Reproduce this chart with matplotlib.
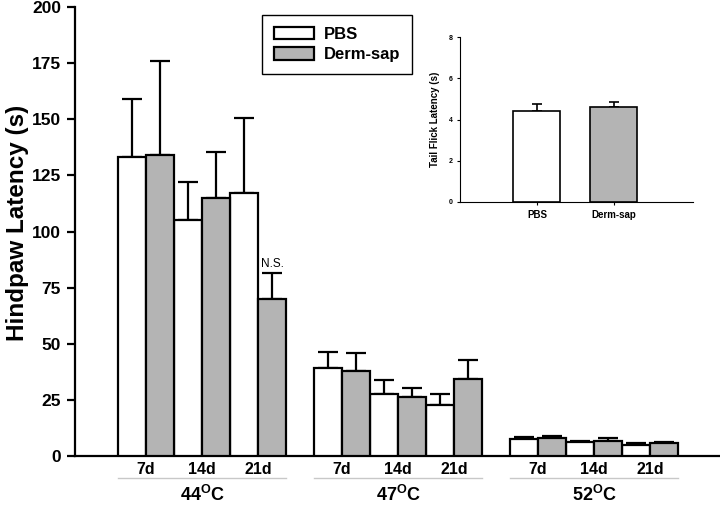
import numpy as np
import matplotlib.pyplot as plt

plt.rcParams['font.family'] = ['Liberation Sans', 'DejaVu Sans']
plt.rcParams['mathtext.fontset'] = 'custom'
plt.rcParams['mathtext.bf'] = 'Liberation Sans:bold'
plt.rcParams['mathtext.rm'] = 'Liberation Sans'

# data
temps = ['44', '47', '52']
days = ['7d', '14d', '21d']
pbs_mean = [133, 105, 117, 39, 27.5, 22.6, 7.4, 6.2, 5.0]
pbs_err = [26, 17, 33.5, 7.4, 6.3, 4.9, 0.9, 0.6, 0.6]
derm_mean = [134, 115, 70, 37.8, 26.3, 34.2, 7.9, 6.8, 5.9]
derm_err = [42, 20.5, 11.6, 8.2, 4.1, 8.4, 0.9, 1.1, 0.5]

tail_groups = ['PBS', 'Derm-sap']
tail_mean = [4.41, 4.62]
tail_err = [0.33, 0.25]

WHITE = 'white'
GREY = '#b4b4b4'

fig = plt.figure(figsize=(7.2, 5.05), dpi=100)
ax = fig.add_axes([75 / 720, 1 - 456 / 505, 645 / 720, 449 / 505])

off = 1.54
pbs_x = []
derm_x = []
for g in range(3):
    for d in range(3):
        left = off + 7 * g + 2 * d
        pbs_x.append(left + 0.5)
        derm_x.append(left + 1.5)
pbs_x = np.array(pbs_x)
derm_x = np.array(derm_x)

ax.bar(pbs_x, pbs_mean, width=1, color=WHITE, edgecolor='black', linewidth=1.6, label='PBS', zorder=3)
ax.bar(derm_x, derm_mean, width=1, color=GREY, edgecolor='black', linewidth=1.6, label='Derm-sap', zorder=3)
ax.errorbar(pbs_x, pbs_mean, yerr=[np.zeros(9), pbs_err], fmt='none', ecolor='black',
            elinewidth=1.6, capsize=7, capthick=1.6, zorder=2)
ax.errorbar(derm_x, derm_mean, yerr=[np.zeros(9), derm_err], fmt='none', ecolor='black',
            elinewidth=1.6, capsize=7, capthick=1.6, zorder=2)

ax.text(derm_x[2], derm_mean[2] + derm_err[2] + 1.2, 'N.S.', ha='center', va='bottom', fontsize=8.5)

ax.set_xlim(0, 23.04)
ax.set_ylim(0, 200)
ax.set_yticks(np.arange(0, 201, 25))
ax.tick_params(axis='y', direction='out', length=6, width=1.6, labelsize=12.5, pad=4)
for t in ax.get_yticklabels():
    t.set_fontweight('bold')
ax.set_xticks([])
for s in ['top', 'right']:
    ax.spines[s].set_visible(False)
for s in ['left', 'bottom']:
    ax.spines[s].set_linewidth(1.6)
ax.set_ylabel('Hindpaw Latency (s)', fontsize=17.5, fontweight='bold')
ax.yaxis.set_label_coords(-0.072, 0.52)

trans = ax.get_xaxis_transform()
for g in range(3):
    for d in range(3):
        i = 3 * g + d
        xc = (pbs_x[i] + derm_x[i]) / 2
        ax.text(xc, -0.014, days[d], transform=trans, ha='center', va='top',
                fontsize=11.5, fontweight='bold')
    x0 = off + 7 * g
    ax.plot([x0, x0 + 6], [-0.049, -0.049], transform=trans, color='#c8c8c8',
            linewidth=1, clip_on=False)
    ax.text(x0 + 3, -0.064, temps[g] + r'$^{\mathbf{O}}$C', transform=trans, ha='center',
            va='top', fontsize=13, fontweight='bold')

ax.legend(loc='upper left', bbox_to_anchor=(262 / 720, 1 - 15 / 505),
          bbox_transform=fig.transFigure, borderaxespad=0, fancybox=False,
          edgecolor='black', framealpha=1, prop={'weight': 'bold', 'size': 12},
          handlelength=2.4, handleheight=0.8, handletextpad=0.6, labelspacing=0.32,
          borderpad=0.7)
ax.get_legend().get_frame().set_linewidth(1)

# inset: tail flick
ins = fig.add_axes([460 / 720, 1 - 202 / 505, 233 / 720, 165 / 505])
tx = np.arange(1, len(tail_groups) + 1)
ins.bar(tx, tail_mean, width=0.61, color=[WHITE, GREY], edgecolor='black', linewidth=1.2, zorder=3)
ins.errorbar(tx, tail_mean, yerr=[np.zeros(2), tail_err], fmt='none', ecolor='black',
             elinewidth=1.2, capsize=3.5, capthick=1.2, zorder=2)
ins.set_xlim(0, 3.03)
ins.set_ylim(0, 8)
ins.set_yticks([0, 2, 4, 6, 8])
ins.set_xticks(tx)
ins.set_xticklabels(tail_groups, fontsize=7, fontweight='bold')
ins.tick_params(axis='y', direction='out', length=2.5, width=0.8, labelsize=5, pad=3)
ins.tick_params(axis='x', direction='out', length=2.5, width=0.8, pad=3)
for t in ins.get_yticklabels():
    t.set_fontweight('bold')
for s in ['top', 'right']:
    ins.spines[s].set_visible(False)
for s in ['left', 'bottom']:
    ins.spines[s].set_linewidth(0.8)
ins.set_ylabel('Tail Flick Latency (s)', fontsize=7, fontweight='bold', labelpad=6)

fig.savefig('out.png', dpi=100)
